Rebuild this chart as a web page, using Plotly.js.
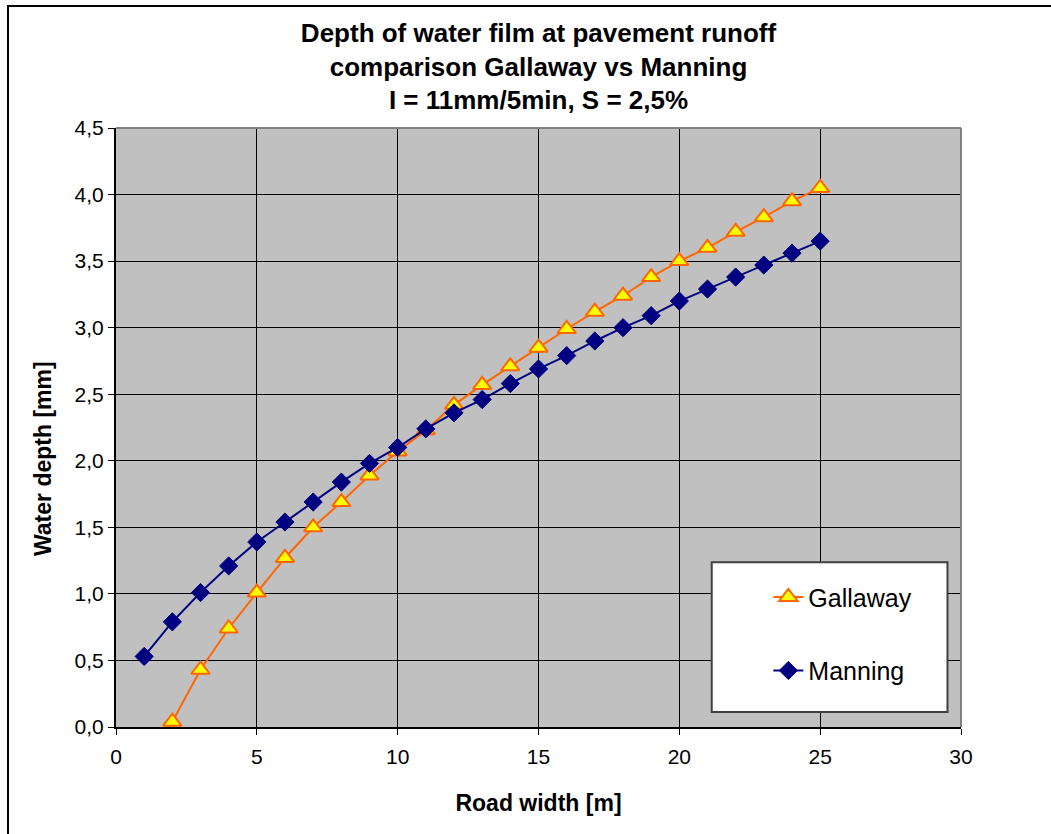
<!DOCTYPE html>
<html>
<head>
<meta charset="utf-8">
<script src="https://cdn.plot.ly/plotly-3.0.1.min.js"></script>
<style>
  html, body { margin: 0; padding: 0; background: #ffffff; overflow: hidden; }
  #frame { position: absolute; left: 7px; top: 5px; width: 1200px; height: 1000px;
           border-left: 2px solid #000; border-top: 2px solid #000; pointer-events: none; }
  #chart { position: absolute; left: 0; top: 0; width: 1051px; height: 834px; }
</style>
</head>
<body>
<div id="chart"></div>
<div id="frame"></div>
<script>
// Road width [m]
const roadWidth = [1, 2, 3, 4, 5, 6, 7, 8, 9, 10, 11, 12, 13, 14, 15, 16, 17, 18, 19, 20, 21, 22, 23, 24, 25];

// Water film depth [mm] by method
const gallaway = [-0.30, 0.04, 0.43, 0.74, 1.01, 1.27, 1.50, 1.69, 1.89, 2.07, 2.23, 2.42, 2.57, 2.71, 2.85,
                  2.99, 3.12, 3.24, 3.38, 3.50, 3.60, 3.72, 3.83, 3.95, 4.05];
const manning  = [0.53, 0.79, 1.01, 1.21, 1.39, 1.54, 1.69, 1.84, 1.98, 2.10, 2.24, 2.36, 2.46, 2.58, 2.69,
                  2.79, 2.90, 3.00, 3.09, 3.20, 3.29, 3.38, 3.47, 3.56, 3.65];

const seriesNames = ['Gallaway', 'Manning'];
const xTicks = [0, 5, 10, 15, 20, 25, 30];
const yTicks = [0, 0.5, 1, 1.5, 2, 2.5, 3, 3.5, 4, 4.5];

const FONT = 'Liberation Sans, Arial, sans-serif';

const traces = [
  {
    x: roadWidth, y: gallaway, name: seriesNames[0], type: 'scatter', mode: 'lines+markers',
    legendgroup: 'g', cliponaxis: true,
    line: { color: '#FF6600', width: 2 },
    marker: { symbol: 'triangle-up', size: 16, color: '#FFFF00', line: { color: '#FF6600', width: 2 } }
  },
  {
    x: roadWidth, y: manning, name: seriesNames[1], type: 'scatter', mode: 'lines+markers',
    legendgroup: 'm', cliponaxis: true,
    line: { color: '#000080', width: 2 },
    marker: { symbol: 'diamond', size: 14, color: '#000080', line: { color: '#000080', width: 1 } }
  }
];

const layout = {
  width: 1051, height: 834,
  margin: { l: 116, r: 90, t: 128, b: 107 },
  paper_bgcolor: '#ffffff',
  plot_bgcolor: '#C0C0C0',
  separators: ',.',
  font: { family: FONT, color: '#000000' },
  title: {
    text: 'Depth of water film at pavement runoff<br>comparison Gallaway vs Manning<br>I = 11mm/5min, S = 2,5%',
    font: { family: FONT, size: 26, color: '#000000', weight: 'bold' },
    x: 0.5, xref: 'paper', xanchor: 'center',
    y: 0.950, yref: 'container', yanchor: 'top'
  },
  xaxis: {
    range: [0, 30], tickvals: xTicks, ticktext: xTicks.map(String),
    showgrid: true, gridcolor: '#000000', gridwidth: 1,
    showline: true, linecolor: '#000000', linewidth: 2,
    ticks: 'outside', ticklen: 6, tickcolor: '#000000', tickwidth: 1,
    ticklabelstandoff: 4,
    tickfont: { family: FONT, size: 21, color: '#000000' },
    zeroline: false, fixedrange: true,
    title: { text: 'Road width [m]', standoff: 28,
             font: { family: FONT, size: 23, color: '#000000', weight: 'bold' } }
  },
  yaxis: {
    range: [0, 4.5], tickvals: yTicks, tickformat: '.1f',
    showgrid: true, gridcolor: '#000000', gridwidth: 1,
    showline: true, linecolor: '#000000', linewidth: 2,
    ticks: 'outside', ticklen: 6, tickcolor: '#000000', tickwidth: 1,
    tickfont: { family: FONT, size: 21, color: '#000000' },
    zeroline: false, fixedrange: true
  },
  annotations: [
    // vertical axis title, set a little below the plot centre
    { text: '<b>Water depth [mm]</b>', xref: 'paper', yref: 'paper', x: -0.0864, y: 0.449,
      xanchor: 'center', yanchor: 'middle', textangle: -90, showarrow: false,
      font: { family: FONT, size: 23, color: '#000000' } }
  ],
  showlegend: true,
  legend: {
    x: 0.772, xanchor: 'left', y: 0.255, yanchor: 'top',
    bgcolor: 'rgba(0,0,0,0)', borderwidth: 0,
    font: { family: FONT, size: 25, color: '#000000' },
    traceorder: 'grouped', tracegroupgap: 38
  },
  shapes: [
    // legend box
    { type: 'rect', xref: 'paper', yref: 'paper', x0: 0.705, x1: 0.984, y0: 0.025, y1: 0.275,
      fillcolor: '#ffffff', line: { color: '#404040', width: 2 }, layer: 'above' },
    // gray plot frame on top and right
    { type: 'line', xref: 'paper', yref: 'paper', x0: 0, x1: 1, y0: 1, y1: 1,
      line: { color: '#808080', width: 2 }, layer: 'above' },
    { type: 'line', xref: 'paper', yref: 'paper', x0: 1, x1: 1, y0: 0, y1: 1,
      line: { color: '#808080', width: 2 }, layer: 'above' }
  ]
};

Plotly.newPlot('chart', traces, layout, { displayModeBar: false, staticPlot: true });
</script>
</body>
</html>
